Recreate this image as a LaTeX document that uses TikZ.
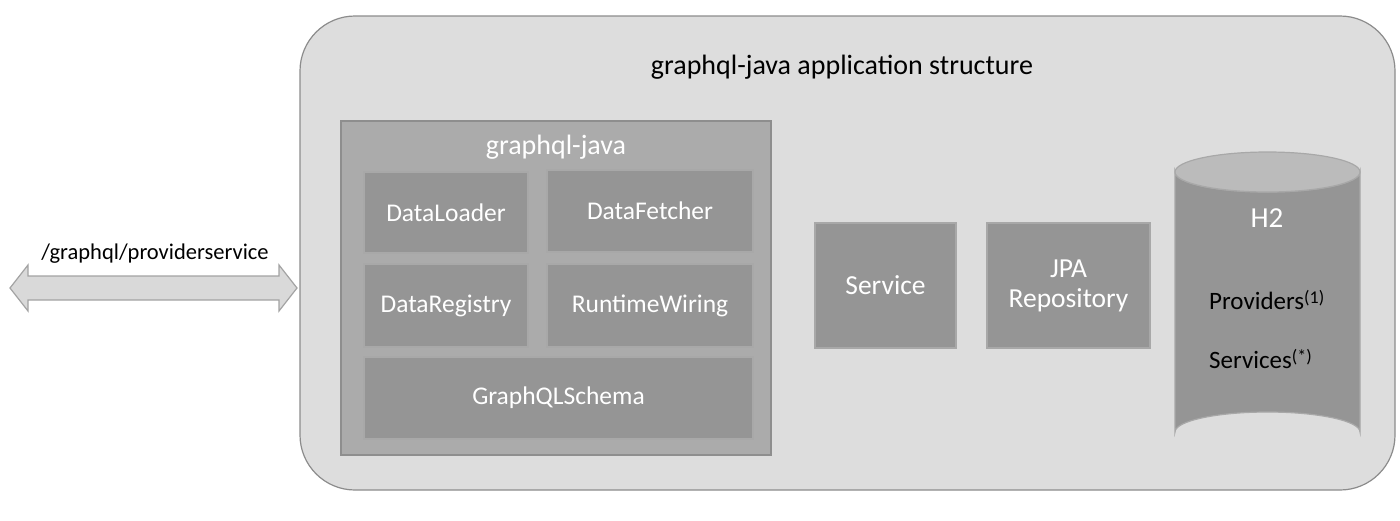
\documentclass[tikz,border=0pt]{standalone}
\usepackage{fontspec}
\setmainfont{Carlito}
\definecolor{outerfill}{HTML}{DDDDDD}
\definecolor{outerline}{HTML}{8C8C8C}
\definecolor{gjfill}{HTML}{ABABAB}
\definecolor{gjline}{HTML}{8E8E8E}
\definecolor{boxfill}{HTML}{959595}
\definecolor{boxline}{HTML}{A8A8A8}
\definecolor{cyltop}{HTML}{BBBBBB}
\definecolor{arrfill}{HTML}{D9D9D9}
\definecolor{arrline}{HTML}{A3A3A3}
\begin{document}
\begin{tikzpicture}[x=1pt,y=-1pt,
  inbox/.style={draw=boxline,line width=1.2pt,fill=boxfill,text=white,font=\fontsize{25.5}{29}\selectfont,align=center,inner sep=0pt},
  dark/.style={text=black,font=\fontsize{22.5}{26}\selectfont,inner sep=0pt}]
\useasboundingbox (0,0) rectangle (1400,520);
\fill[white] (0,0) rectangle (1400,520);
% outer container
\draw[outerline,line width=1.2pt,fill=outerfill,rounded corners=55pt] (300,16) rectangle (1395,490);
\node[dark,font=\fontsize{28}{32}\selectfont] (title) at (842,67) {graphql-java application structure};
% graphql-java box
\draw[gjline,line width=1.2pt,fill=gjfill] (341,121) rectangle (771,455);
\node[text=white,font=\fontsize{28}{32}\selectfont,inner sep=0pt] (gjt) at (556,147) {graphql-java};
\node[inbox,minimum width=164pt,minimum height=81pt] (dl) at (446,212.5) {DataLoader};
\node[inbox,minimum width=206pt,minimum height=82pt] (df) at (650,211) {DataFetcher};
\node[inbox,minimum width=164pt,minimum height=83pt] (dr) at (446,305.5) {DataRegistry};
\node[inbox,minimum width=206pt,minimum height=83pt] (rw) at (650,305.5) {RuntimeWiring};
\node[inbox,minimum width=389pt,minimum height=82pt] (gs) at (558.5,398) {GraphQLSchema};
% service / repository
\node[inbox,font=\fontsize{27.5}{31}\selectfont,minimum width=141pt,minimum height=125pt] (svc) at (885.5,285.5) {Service};
\node[inbox,font=\fontsize{27.5}{31}\selectfont,minimum width=163pt,minimum height=125pt] (jpa) at (1068.5,285.5) {JPA\\[-1pt]Repository};
% cylinder
\draw[boxline,line width=1.2pt,fill=boxfill] (1175,172) -- (1175,432) arc[start angle=180,end angle=360,x radius=92.5,y radius=20] -- (1360,172) arc[start angle=0,end angle=180,x radius=92.5,y radius=20] -- cycle;
\draw[boxline,line width=1.2pt,fill=cyltop] (1267.5,172) ellipse[x radius=92.5,y radius=20];
\node[text=white,font=\fontsize{29}{33}\selectfont,inner sep=0pt] (h2) at (1267,218) {H2};
\node[dark,font=\fontsize{25}{29}\selectfont,anchor=west] (prov) at (1209,300) {Providers\raisebox{0.5ex}{\fontsize{18}{20}\selectfont(1)}};
\node[dark,font=\fontsize{25}{29}\selectfont,anchor=west] (servs) at (1209,359) {Services\raisebox{0.5ex}{\fontsize{18}{20}\selectfont(*)}};
% double arrow
\draw[arrline,line width=1.2pt,fill=arrfill] (10,288) -- (28,265) -- (28,276) -- (279,276) -- (279,265) -- (297,288) -- (279,311) -- (279,300) -- (28,300) -- (28,311) -- cycle;
\node[dark] (lbl) at (155,254) {/graphql/providerservice};
\end{tikzpicture}
\end{document}
